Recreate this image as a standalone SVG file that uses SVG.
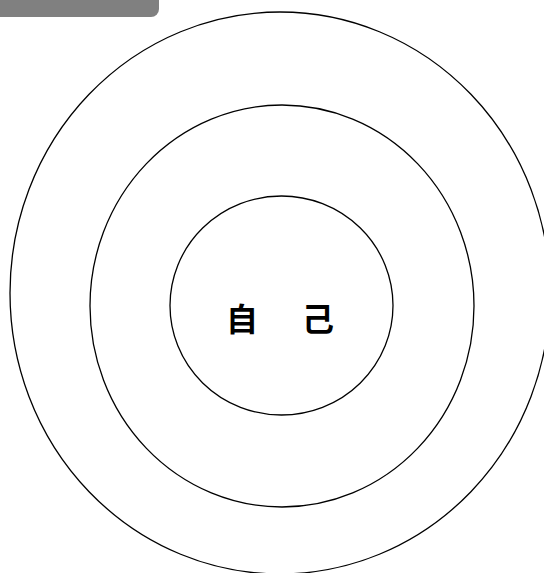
<svg xmlns="http://www.w3.org/2000/svg" width="544" height="573" viewBox="0 0 544 573">
<style>
.ring{fill:none;stroke:#000;stroke-width:1.3}
.lbl{font-family:"Noto Sans CJK SC","Noto Sans CJK JP",sans-serif;font-size:32px;font-weight:bold;fill:#000}
</style>
<rect width="544" height="573" fill="#fff"/>
<g id="tab"><rect x="-20" y="-20" width="179" height="37" rx="8" fill="#808080"/></g>
<g id="outer"><ellipse class="ring" cx="280" cy="293" rx="270" ry="281"/></g>
<g id="middle"><ellipse class="ring" cx="282" cy="306" rx="192" ry="201"/></g>
<g id="inner"><ellipse class="ring" cx="281.5" cy="305.5" rx="111.5" ry="109.5"/>
<text class="lbl" x="242 280 318" y="331" text-anchor="middle" xml:space="preserve">自 己</text></g>
</svg>
